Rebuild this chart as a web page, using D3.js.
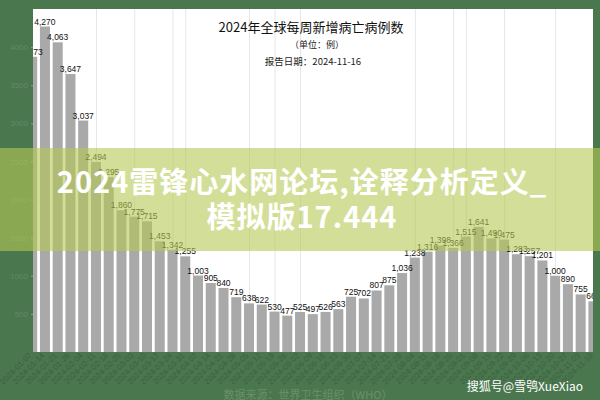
<!DOCTYPE html>
<html><head><meta charset="utf-8">
<script src="https://cdn.jsdelivr.net/npm/d3@7"></script>
<style>body{margin:0;background:#4a774e;}svg{display:block}</style>
</head><body>
<svg id="c" width="600" height="400"></svg>
<script>
const weeks = ["2024-01-07","2024-01-14","2024-01-21","2024-01-28","2024-02-04","2024-02-11","2024-02-18","2024-02-25","2024-03-03","2024-03-10","2024-03-17","2024-03-24","2024-03-31","2024-04-07","2024-04-14","2024-04-21","2024-04-28","2024-05-05","2024-05-12","2024-05-19","2024-05-26","2024-06-02","2024-06-09","2024-06-16","2024-06-23","2024-06-30","2024-07-07","2024-07-14","2024-07-21","2024-07-28","2024-08-04","2024-08-11","2024-08-18","2024-08-25","2024-09-01","2024-09-08","2024-09-15","2024-09-22","2024-09-29","2024-10-06","2024-10-13","2024-10-20","2024-10-27","2024-11-03","2024-11-10"];
const deaths = [3873,4270,4063,3647,3037,2494,2295,1860,1775,1715,1453,1342,1255,1003,905,840,719,638,622,530,477,525,497,526,563,725,702,807,875,1036,1238,1316,1398,1366,1515,1641,1490,1475,1283,1257,1201,1000,890,755,665];
const yTicks = [0,500,1000,1500,2000,2500,3000,3500,4000];
const title = "2024年全球每周新增病亡病例数";
const subtitle = "（单位：例）";
const reportDate = "报告日期：2024-11-16";
const source = "数据来源：世界卫生组织（WHO）";
const bannerLines = ["2024雷锋心水网论坛,诠释分析定义_","模拟版17.444"];
const watermark = "搜狐号@雪鸮XueXiao";

const svg = d3.select("#c");
const panel = {x0:33, x1:593, y0:9, y1:352};

svg.append("rect").attr("width",600).attr("height",400).attr("fill","#4a774e");
svg.append("rect").attr("x",panel.x0).attr("y",panel.y0)
  .attr("width",panel.x1-panel.x0).attr("height",panel.y1-panel.y0).attr("fill","#ffffff");

const x = d3.scaleBand().domain(weeks).range([25.9,599.7]).paddingInner(0.215).paddingOuter(0.1);
const y = d3.scaleLinear().domain([0,4500]).range([panel.y1,panel.y0]);

svg.append("defs").append("clipPath").attr("id","clip")
  .append("rect").attr("x",panel.x0).attr("y",panel.y0)
  .attr("width",panel.x1-panel.x0).attr("height",panel.y1-panel.y0);

const g = svg.append("g").attr("clip-path","url(#clip)");

const gridIdx = [5,8,11,12,17,19,21,30,33,34,37,41];
g.selectAll("line.grid").data(gridIdx).join("line")
  .attr("x1",i=>x(weeks[i])+x.bandwidth()*0.5+0.5).attr("x2",i=>x(weeks[i])+x.bandwidth()*0.5+0.5)
  .attr("y1",panel.y0).attr("y2",panel.y1).attr("stroke","#e6e6e6").attr("stroke-width",1);

g.selectAll("rect.bar").data(deaths).join("rect")
  .attr("x",(d,i)=>x(weeks[i])).attr("width",x.bandwidth())
  .attr("y",d=>y(d)).attr("height",d=>y(0)-y(d)).attr("fill","#a9a9a9");

g.selectAll("text.lbl").data(deaths).join("text")
  .attr("x",(d,i)=>x(weeks[i])+x.bandwidth()/2).attr("y",d=>y(d)-2)
  .attr("text-anchor","middle").attr("font-family","Liberation Sans, Arial, sans-serif")
  .attr("font-size",8.5).attr("fill","#111").text(d=>d3.format(",")(d));

const ya = svg.append("g").attr("transform",`translate(${panel.x0},0)`)
  .call(d3.axisLeft(y).tickValues(yTicks.slice(1)).tickSize(2).tickFormat(d3.format("d")));
ya.select(".domain").remove();
ya.selectAll("line").attr("stroke","#8aa58a");
ya.selectAll("text").attr("fill","#62896a").attr("font-size",8).attr("font-family","Liberation Sans, Arial, sans-serif");

svg.append("g").selectAll("text").data(weeks).join("text")
  .attr("transform",d=>`translate(${x(d)+x.bandwidth()/2},${panel.y1+4}) rotate(-45)`)
  .attr("text-anchor","end").attr("font-size",8).attr("font-family","Liberation Sans, Arial, sans-serif")
  .attr("fill","#1e2a1e").attr("opacity",0.3).text(d=>d);

svg.append("text").attr("x",311).attr("y",32).attr("text-anchor","middle")
  .attr("font-family","Noto Sans CJK SC").attr("font-size",13).attr("fill","#111").text(title);
svg.append("text").attr("x",317).attr("y",48).attr("text-anchor","middle")
  .attr("font-family","Noto Sans CJK SC").attr("font-size",9).attr("fill","#222").text(subtitle);
svg.append("text").attr("x",313).attr("y",65).attr("text-anchor","middle")
  .attr("font-family","Noto Sans CJK SC").attr("font-size",9.5).attr("fill","#222").text(reportDate);

svg.append("text").attr("x",308).attr("y",399).attr("text-anchor","middle")
  .attr("font-family","Noto Sans CJK SC").attr("font-size",11).attr("fill","#6a9068").text(source);

svg.append("rect").attr("x",0).attr("y",148).attr("width",600).attr("height",103)
  .attr("fill","rgb(182,202,84)").attr("opacity",0.6);
svg.selectAll("text.banner").data(bannerLines).join("text")
  .attr("x",302).attr("y",(d,i)=>193+i*35).attr("text-anchor","middle")
  .attr("font-family","Noto Sans CJK SC").attr("font-weight","bold").attr("font-size",29)
  .attr("letter-spacing",1).attr("fill","#ffffff").text(d=>d);

svg.append("text").attr("x",583).attr("y",391).attr("text-anchor","end")
  .attr("font-family","Noto Sans CJK SC").attr("font-size",12).attr("fill","#ffffff").text(watermark);
</script>
</body></html>
